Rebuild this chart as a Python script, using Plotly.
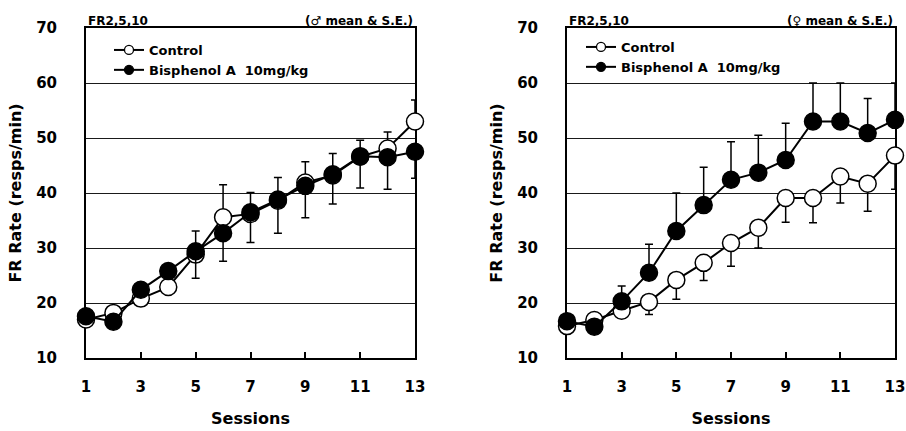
import plotly.graph_objects as go

sessions = list(range(1, 14))
xtick_vals = [1, 3, 5, 7, 9, 11, 13]
ytick_vals = [10, 20, 30, 40, 50, 60, 70]

# Male (left panel)
ctrl_m = [17.0, 18.2, 20.8, 22.9, 28.8, 35.6, 36.2, 38.6, 41.9, 43.2, 46.6, 48.1, 53.0]
ctrl_m_upper = [18.0, 19.2, 21.8, 24.0, 33.1, 41.5, 40.1, 42.8, 45.7, 47.2, 49.6, 51.1, 56.9]
bpa_m = [17.6, 16.6, 22.4, 25.8, 29.4, 32.7, 36.5, 38.8, 41.3, 43.4, 46.7, 46.5, 47.5]
bpa_m_lower = [16.8, 15.8, 21.6, 25.0, 24.5, 27.6, 31.0, 32.7, 35.5, 38.0, 40.9, 40.7, 42.7]

# Female (right panel)
ctrl_f = [15.8, 16.9, 18.6, 20.2, 24.2, 27.3, 30.9, 33.7, 39.1, 39.1, 43.0, 41.7, 46.8]
ctrl_f_lower = [15.0, 16.2, 17.7, 17.9, 20.7, 24.1, 26.7, 30.0, 34.7, 34.6, 38.2, 36.7, 40.7]
bpa_f = [16.7, 15.7, 20.3, 25.5, 33.1, 37.8, 42.4, 43.7, 46.0, 53.0, 53.0, 50.9, 53.3]
bpa_f_upper = [17.5, 16.5, 23.1, 30.7, 40.0, 44.7, 49.3, 50.5, 52.7, 60.0, 60.0, 57.2, 60.0]

names = ["Control", "Bisphenol A\u00a0\u00a010mg/kg"]

W, H = 906, 431
FONT = "DejaVu Sans"

def px_x(p):
    return p / W

def px_y(p):
    return 1 - p / H

def diff(a, b):
    return [round(abs(x - y), 2) for x, y in zip(a, b)]

fig = go.Figure()

def add_series(x, y, up, down, fill, xa, ya):
    fig.add_trace(go.Scatter(
        x=x, y=y, mode="lines+markers", xaxis=xa, yaxis=ya, showlegend=False,
        line=dict(color="black", width=2),
        marker=dict(size=17, color=fill, line=dict(color="black", width=1.5)),
        error_y=dict(type="data", symmetric=False, array=up, arrayminus=down,
                     color="black", thickness=1.5, width=4),
        cliponaxis=False,
    ))

zeros = [0] * 13
# left panel
add_series(sessions, ctrl_m, diff(ctrl_m_upper, ctrl_m), zeros, "white", "x", "y")
add_series(sessions, bpa_m, zeros, diff(bpa_m, bpa_m_lower), "black", "x", "y")
# right panel
add_series(sessions, ctrl_f, zeros, diff(ctrl_f, ctrl_f_lower), "white", "x2", "y2")
add_series(sessions, bpa_f, diff(bpa_f_upper, bpa_f), zeros, "black", "x2", "y2")

# legend entries
for lg, xa, ya in [("legend", "x", "y"), ("legend2", "x2", "y2")]:
    for nm, fill in zip(names, ["white", "black"]):
        fig.add_trace(go.Scatter(
            x=[None], y=[None], mode="lines+markers", name=nm, legend=lg,
            xaxis=xa, yaxis=ya,
            line=dict(color="black", width=2),
            marker=dict(size=9, color=fill, line=dict(color="black", width=1.3)),
        ))

tickfont = dict(family=FONT, size=15, color="black", weight="bold")
titlefont = dict(family=FONT, size=16, color="black", weight="bold")

def xaxis(domain, anchor):
    return dict(domain=domain, range=[1, 13], tickvals=xtick_vals, anchor=anchor,
                ticks="inside", ticklen=6, tickwidth=1.5, tickcolor="black",
                showgrid=False, zeroline=False, showline=True, mirror=True,
                linecolor="black", linewidth=2, tickfont=tickfont,
                ticklabelstandoff=14, automargin=False,
                title=dict(text="Sessions", font=titlefont, standoff=18),
                layer="below traces")

def yaxis(domain, anchor):
    return dict(domain=domain, range=[10, 70], tickvals=ytick_vals,
                ticks="", showgrid=True, gridcolor="#1a1a1a", gridwidth=1,
                zeroline=False, showline=True, mirror=True, anchor=anchor,
                linecolor="black", linewidth=2, tickfont=tickfont,
                ticklabelstandoff=24, automargin=False,
                title=dict(text="FR Rate (resps/min)", font=titlefont, standoff=11),
                layer="below traces")

xd1 = [px_x(86), px_x(415)]
xd2 = [px_x(567), px_x(895)]
yd = [px_y(358), px_y(28)]

legend_style = dict(font=dict(family=FONT, size=13, color="black", weight="bold"),
                    bgcolor="rgba(0,0,0,0)", borderwidth=0, tracegroupgap=0,
                    itemsizing="trace", yanchor="top", xanchor="left")

fig.update_layout(
    width=W, height=H, margin=dict(l=0, r=0, t=0, b=0, autoexpand=False),
    paper_bgcolor="white", plot_bgcolor="white",
    xaxis=xaxis(xd1, "y"), yaxis=yaxis(yd, "x"),
    xaxis2=xaxis(xd2, "y2"), yaxis2=yaxis(yd, "x2"),
    legend=dict(legend_style, x=px_x(109), y=px_y(35)),
    legend2=dict(legend_style, x=px_x(581), y=px_y(32)),
)

annfont = dict(family=FONT, size=12, color="black", weight="bold")
for xref, sym in [("x domain", "\u2642"), ("x2 domain", "\u2640")]:
    fig.add_annotation(text="FR2,5,10", xref=xref, yref="paper", x=0, y=yd[1],
                       xanchor="left", yanchor="bottom", showarrow=False,
                       font=annfont, yshift=-2)
    fig.add_annotation(text=f"({sym} mean & S.E.)", xref=xref, yref="paper", x=1,
                       y=yd[1], xanchor="right", yanchor="bottom", showarrow=False,
                       font=annfont, yshift=-2)

fig.write_html(
    "out.html",
    config={"displayModeBar": False},
    post_script="document.body.style.margin='0';document.body.style.overflow='hidden';",
)
